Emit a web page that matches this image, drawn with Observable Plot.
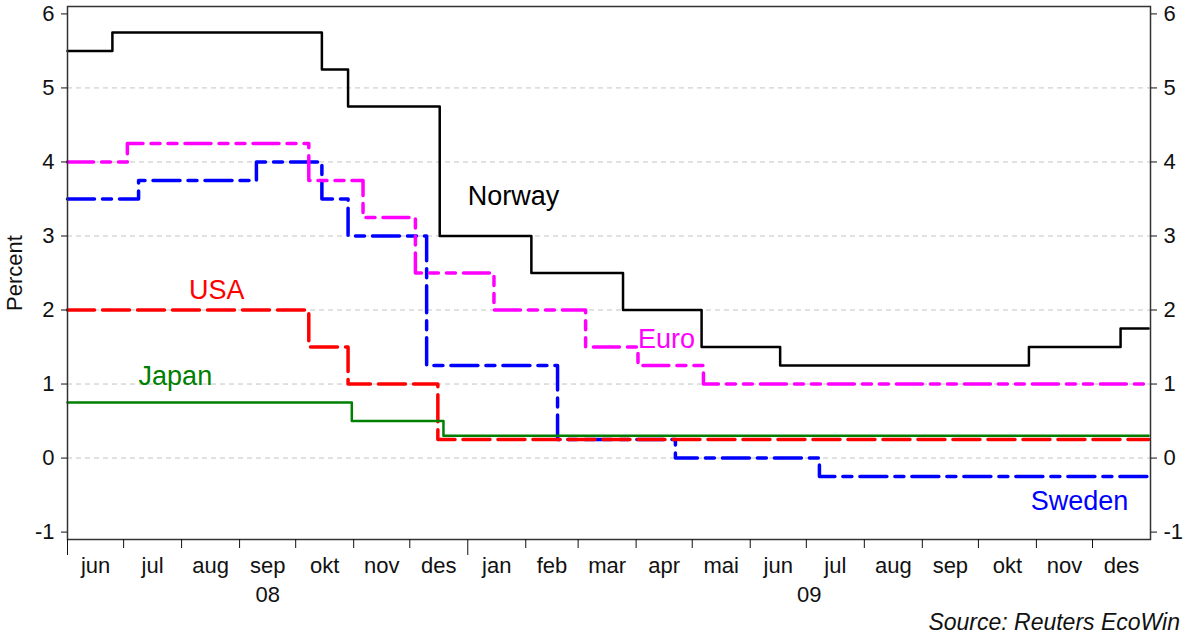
<!DOCTYPE html>
<html><head><meta charset="utf-8">
<script src="https://cdn.jsdelivr.net/npm/d3@7"></script>
<script src="https://cdn.jsdelivr.net/npm/@observablehq/plot@0.6"></script>
<style>
body{margin:0;background:#fff;font-family:"Liberation Sans",Arial,sans-serif;}
#caption{width:1188px;box-sizing:border-box;text-align:right;padding-right:8px;font-style:italic;font-size:23px;line-height:24px;color:#111;}
</style></head><body>
<div id="chart"></div>
<div id="caption">Source: Reuters EcoWin</div>
<script>
// Policy rates (percent), step changes
const norwayDates = ["2008-06-01","2008-06-25","2008-10-15","2008-10-29","2008-12-17","2009-02-04","2009-03-25","2009-05-06","2009-06-17","2009-10-28","2009-12-16","2009-12-31"];
const norwayRates = [5.5,5.75,5.25,4.75,3.0,2.5,2.0,1.5,1.25,1.5,1.75,1.75];

const euroDates = ["2008-06-01","2008-07-03","2008-10-08","2008-11-06","2008-12-04","2009-01-15","2009-03-05","2009-04-02","2009-05-07","2009-12-31"];
const euroRates = [4.0,4.25,3.75,3.25,2.5,2.0,1.5,1.25,1.0,1.0];

const swedenDates = ["2008-06-01","2008-07-09","2008-09-10","2008-10-15","2008-10-29","2008-12-10","2009-02-18","2009-04-22","2009-07-08","2009-12-31"];
const swedenRates = [3.5,3.75,4.0,3.5,3.0,1.25,0.25,0.0,-0.25,-0.25];

const usaDates = ["2008-06-01","2008-10-08","2008-10-29","2008-12-16","2009-12-31"];
const usaRates = [2.0,1.5,1.0,0.25,0.25];

const japanDates = ["2008-06-01","2008-10-31","2008-12-19","2009-12-31"];
const japanRates = [0.75,0.5,0.3,0.3];

const yTicks = [-1,0,1,2,3,4,5,6];
const gridValues = [0,1,2,3,4,5];
const monthLabels = ["jun","jul","aug","sep","okt","nov","des","jan","feb","mar","apr","mai","jun","jul","aug","sep","okt","nov","des"];
const yearLabels = ["08","09"];
const startDate = "2008-06-01";
const endDate = "2010-01-01";
const yearStarts = ["2008-06-01","2009-01-01"];

// Series labels: name, anchor date, anchor value, colour
const labelNames = ["Norway","Euro","USA","Japan","Sweden"];
const labelDates = ["2009-01-01","2009-04-02","2008-08-05","2008-07-09","2009-10-29"];
const labelValues = [3.53,1.60,2.26,1.10,-0.59];
const labelColors = ["#000000","#ff00ff","#ff0000","#008000","#0000ff"];

const build = (dates, rates) => dates.map((d, i) => ({date: new Date(d), rate: rates[i]}));
const norway = build(norwayDates, norwayRates);
const euro = build(euroDates, euroRates);
const sweden = build(swedenDates, swedenRates);
const usa = build(usaDates, usaRates);
const japan = build(japanDates, japanRates);

const x0 = new Date(startDate), x1 = new Date(endDate);
const monthStarts = d3.utcMonth.range(x0, x1);
const monthMid = monthStarts.map((m, i) => {
  const n = d3.utcMonth.offset(m, 1);
  return {date: new Date((+m + +n) / 2), label: monthLabels[i]};
});
const monthTicks = monthStarts.filter(m => !yearStarts.includes(m.toISOString().slice(0,10)));
const yearTickDates = yearStarts.map(d => new Date(d));
const yearBounds = [[x0, new Date("2009-01-01")], [new Date("2009-01-01"), x1]];
const yearMid = yearBounds.map((b, i) => ({date: new Date((+b[0] + +b[1]) / 2), label: yearLabels[i]}));
const seriesLabels = labelNames.map((n, i) => ({name: n, date: new Date(labelDates[i]), value: labelValues[i], color: labelColors[i]}));

const chart = Plot.plot({
  width: 1188, height: 610,
  marginLeft: 67, marginRight: 38, marginTop: 6, marginBottom: 71,
  style: {fontFamily: '"Liberation Sans", Arial, sans-serif', fontSize: "22px", color: "#111", background: "white"},
  x: {type: "utc", domain: [x0, x1], axis: null},
  y: {domain: [-1.1, 6.1], axis: null},
  color: {type: "identity"},
  marks: [
    Plot.ruleY(gridValues, {stroke: "#c4c4c4", strokeDasharray: "5,4", strokeWidth: 1}),
    Plot.line(sweden, {x: "date", y: "rate", curve: "step-after", stroke: "#0000ff", strokeWidth: 3.5, strokeDasharray: "27,8,9,8"}),
    Plot.line(euro, {x: "date", y: "rate", curve: "step-after", stroke: "#ff00ff", strokeWidth: 3.5, strokeDasharray: "26,8,9,8,9,8"}),
    Plot.line(usa, {x: "date", y: "rate", curve: "step-after", stroke: "#ff0000", strokeWidth: 3.5, strokeDasharray: "27,8"}),
    Plot.line(japan, {x: "date", y: "rate", curve: "step-after", stroke: "#008000", strokeWidth: 2.5}),
    Plot.line(norway, {x: "date", y: "rate", curve: "step-after", stroke: "#000000", strokeWidth: 2.5}),
    Plot.frame({stroke: "#333", strokeWidth: 1.5}),
    Plot.axisY({anchor: "left", ticks: yTicks, tickSize: 6, tickPadding: 7, tickFormat: d => String(d), label: null}),
    Plot.axisY({anchor: "right", ticks: yTicks, tickSize: 6, tickPadding: 7, tickFormat: d => String(d), label: null}),
    Plot.axisX({anchor: "bottom", ticks: monthTicks, tickSize: 9, tickFormat: () => "", label: null}),
    Plot.axisX({anchor: "bottom", ticks: yearTickDates, tickSize: 16, tickFormat: () => "", label: null}),
    Plot.text(monthMid, {x: "date", text: "label", frameAnchor: "bottom", dy: 33}),
    Plot.text(yearMid, {x: "date", text: "label", frameAnchor: "bottom", dy: 62}),
    Plot.text(["Percent"], {frameAnchor: "left", dx: -53, rotate: -90, textAnchor: "middle"}),
    Plot.text(seriesLabels, {x: "date", y: "value", text: "name", fill: "color", textAnchor: "start", fontSize: 27})
  ]
});
document.getElementById("chart").appendChild(chart);
</script>
</body></html>
